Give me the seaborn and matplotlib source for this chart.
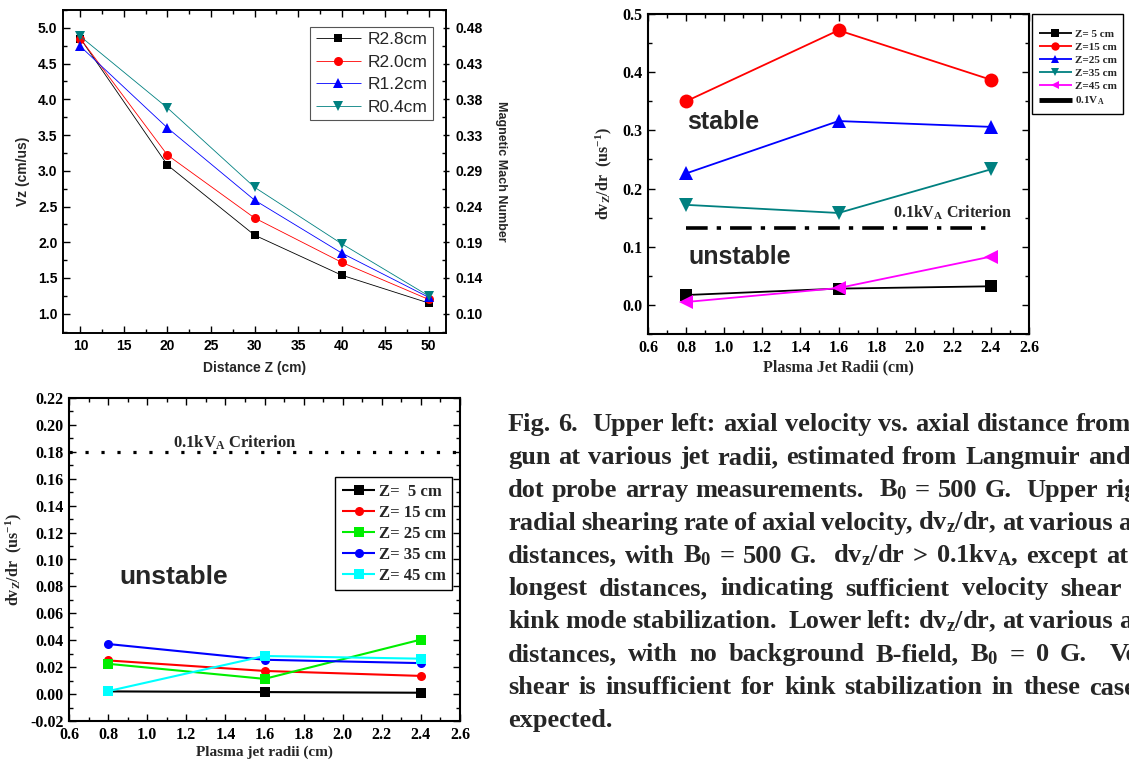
import numpy as np
import pandas as pd
import matplotlib
matplotlib.use("Agg")
import matplotlib.pyplot as plt
import seaborn as sns
from matplotlib.ticker import MultipleLocator, FormatStrFormatter, FixedLocator, FixedFormatter
from matplotlib.lines import Line2D

# ---------------- data ----------------
z_dist = [10, 20, 30, 40, 50]
vz_r28 = [4.85, 3.08, 2.10, 1.54, 1.15]
vz_r20 = [4.85, 3.22, 2.34, 1.72, 1.20]
vz_r12 = [4.74, 3.60, 2.59, 1.85, 1.23]
vz_r04 = [4.88, 3.88, 2.77, 1.98, 1.25]
vz_series_labels = ["R2.8cm", "R2.0cm", "R1.2cm", "R0.4cm"]
vz_ticks = [1.0, 1.5, 2.0, 2.5, 3.0, 3.5, 4.0, 4.5, 5.0]
mach_tick_labels = ["0.10", "0.14", "0.19", "0.24", "0.29", "0.33", "0.38", "0.43", "0.48"]
mach_per_vz = 0.096

radii = [0.8, 1.6, 2.4]
b500_z5 = [0.017, 0.028, 0.032]
b500_z15 = [0.350, 0.472, 0.387]
b500_z25 = [0.226, 0.316, 0.306]
b500_z35 = [0.172, 0.158, 0.233]
b500_z45 = [0.005, 0.029, 0.083]
b500_labels = ["Z= 5 cm", "Z=15 cm", "Z=25 cm", "Z=35 cm", "Z=45 cm", "0.1V$_\\mathrm{A}$"]
crit_b500 = 0.132

b0_z5 = [0.0020, 0.0015, 0.0010]
b0_z15 = [0.0250, 0.0172, 0.0135]
b0_z25 = [0.0225, 0.0113, 0.0405]
b0_z35 = [0.0372, 0.0255, 0.0230]
b0_z45 = [0.0022, 0.0283, 0.0263]
b0_labels = ["Z=  5 cm", "Z= 15 cm", "Z= 25 cm", "Z= 35 cm", "Z= 45 cm"]
crit_b0 = 0.18

caption_lines = [
    "Fig. 6.  Upper left: axial velocity vs. axial distance from",
    "gun at various jet radii, estimated from Langmuir and",
    "dot probe array measurements.  B$_0$ = 500 G.  Upper right:",
    "radial shearing rate of axial velocity, dv$_z$/dr, at various axial",
    "distances, with B$_0$ = 500 G.  dv$_z$/dr > 0.1kv$_A$, except at the",
    "longest distances, indicating sufficient velocity shear for",
    "kink mode stabilization.  Lower left: dv$_z$/dr, at various axial",
    "distances, with no background B-field, B$_0$ = 0 G.  Velocity",
    "shear is insufficient for kink stabilization in these cases, as",
    "expected.",
]
caption_anchor_words = ["from", "Langmuir", "Upper", "various", "at", "shear", "various", "G.", "these", None]
caption_anchor_px = [1131, 1080, 1098, 1113, 1128, 1122, 1113, 1087, 1080, None]

# ---------------- style ----------------
sns.set_theme(style="ticks")
plt.rcParams.update({
    "font.family": ["Liberation Serif", "DejaVu Sans"],
    "font.weight": "bold",
    "mathtext.fontset": "custom",
    "mathtext.rm": "Liberation Serif:bold",
    "mathtext.it": "Liberation Serif:bold",
    "mathtext.bf": "Liberation Serif:bold",
    "mathtext.default": "rm",
    "axes.edgecolor": "black",
    "axes.facecolor": "white",
    "figure.facecolor": "white",
    "xtick.color": "black",
    "ytick.color": "black",
    "lines.solid_capstyle": "butt",
})

W, H = 1129, 766
fig = plt.figure(figsize=(W / 100, H / 100), dpi=100)


def px_axes(l, t, r, b):
    return fig.add_axes([l / W, 1 - b / H, (r - l) / W, (b - t) / H])


def style_ticks(ax, lw, size, family, weight="bold"):
    for s in ax.spines.values():
        s.set_linewidth(lw)
        s.set_color("black")
    ax.tick_params(which="both", direction="in", top=True, right=True, width=1.0,
                   labelsize=size, pad=4)
    ax.tick_params(which="major", length=5)
    ax.tick_params(which="minor", length=3)
    for lab in ax.get_xticklabels() + ax.get_yticklabels():
        lab.set_family(family)
        lab.set_weight(weight)


# ---------------- panel 1 ----------------
ax1 = px_axes(63, 10, 446, 333)
p1 = [(vz_r28, "s", "#000000", 5.5), (vz_r20, "o", "#ff0000", 6.5),
      (vz_r12, "^", "#0000ff", 7), (vz_r04, "v", "#008080", 7)]
for (vals, mk, col, ms), lab in zip(p1, vz_series_labels):
    sns.lineplot(x=z_dist, y=vals, ax=ax1, color=col, marker=mk, markersize=ms,
                 markeredgewidth=0, linewidth=0.6, label=lab)
ax1.set_xlim(8, 52)
ax1.set_ylim(0.73, 5.25)
ax1.xaxis.set_major_locator(MultipleLocator(5))
ax1.xaxis.set_minor_locator(MultipleLocator(2.5))
ax1.yaxis.set_major_locator(FixedLocator(vz_ticks))
ax1.yaxis.set_minor_locator(MultipleLocator(0.25))
ax1.yaxis.set_major_formatter(FormatStrFormatter("%.1f"))
ax1.xaxis.set_major_formatter(FormatStrFormatter("%d"))
style_ticks(ax1, 1.2, 10, "Liberation Sans")
ax1.tick_params(right=False, which="both")
ax1.set_xlabel("Distance Z (cm)", family="Liberation Sans", weight="bold", fontsize=10, labelpad=6)
ax1.set_ylabel("Vz (cm/us)", family="Liberation Sans", weight="bold", fontsize=10, labelpad=6)
h, l = ax1.get_legend_handles_labels()
ax1.legend(h, l, loc="upper right", bbox_to_anchor=(0.966, 0.947),
           prop=dict(family="Liberation Sans", size=12.5, weight="normal"),
           frameon=True, fancybox=False, edgecolor="#555555", framealpha=1,
           handlelength=2.6, borderpad=0.3, labelspacing=0.42, handletextpad=0.4,
           borderaxespad=0)
ax1.get_legend().get_frame().set_linewidth(0.8)

ax1r = ax1.twinx()
ax1r.set_ylim(0.73 * mach_per_vz, 5.25 * mach_per_vz)
ax1r.yaxis.set_major_locator(FixedLocator([v * mach_per_vz for v in vz_ticks]))
ax1r.yaxis.set_major_formatter(FixedFormatter(mach_tick_labels))
ax1r.yaxis.set_minor_locator(MultipleLocator(0.25 * mach_per_vz))
ax1r.tick_params(which="both", direction="in", width=1.0, labelsize=10, pad=4)
ax1r.tick_params(which="major", length=5, direction="inout")
ax1r.tick_params(which="minor", length=3)
for lab in ax1r.get_yticklabels():
    lab.set_family("Liberation Sans")
    lab.set_weight("bold")
for s in ax1r.spines.values():
    s.set_linewidth(1.2)
ax1r.set_ylabel("Magnetic Mach Number", family="Liberation Sans", weight="bold",
                fontsize=9, rotation=270, labelpad=18)

# ---------------- panel 2 ----------------
ax2 = px_axes(648, 14, 1029, 334)
p2 = [(b500_z5, "s", "#000000", 9), (b500_z15, "o", "#ff0000", 10),
      (b500_z25, "^", "#0000ff", 10), (b500_z35, "v", "#008080", 10),
      (b500_z45, "<", "#ff00ff", 10)]
for (vals, mk, col, ms), lab in zip(p2, b500_labels[:5]):
    sns.lineplot(x=radii, y=vals, ax=ax2, color=col, marker=mk, markersize=ms,
                 markeredgewidth=0, linewidth=1.3, label=lab)
sns.lineplot(x=radii, y=[crit_b500] * len(radii), ax=ax2, color="black", linewidth=2.6,
             linestyle=(0, (6, 2.5, 1.2, 2.5)))
ax2.set_xlim(0.6, 2.6)
ax2.set_ylim(-0.05, 0.5)
ax2.xaxis.set_major_locator(MultipleLocator(0.2))
ax2.xaxis.set_minor_locator(MultipleLocator(0.1))
ax2.yaxis.set_major_locator(MultipleLocator(0.1))
ax2.yaxis.set_minor_locator(MultipleLocator(0.05))
ax2.xaxis.set_major_formatter(FormatStrFormatter("%.1f"))
ax2.yaxis.set_major_formatter(FormatStrFormatter("%.1f"))
style_ticks(ax2, 1.5, 11.5, "Liberation Serif")
ax2.set_xlabel("Plasma Jet Radii (cm)", family="Liberation Serif", weight="bold", fontsize=11.5, labelpad=3)
ax2.set_ylabel("dv$_Z$/dr  (us$^{-1}$)", family="Liberation Serif", weight="bold", fontsize=11.5, labelpad=6)
ax2.text(0.805, 0.314, "stable", family="Liberation Sans", weight="bold", fontsize=18, va="center", ha="left")
ax2.text(0.815, 0.082, "unstable", family="Liberation Sans", weight="bold", fontsize=18, va="center", ha="left")
ax2.text(2.51, 0.158, "0.1kV$_\\mathrm{A}$ Criterion", family="Liberation Serif", weight="bold",
         fontsize=11.5, va="center", ha="right")
h2, _ = ax2.get_legend_handles_labels()
ax2.get_legend().remove()
proxy = Line2D([], [], color="black", linewidth=3.5)
leg2 = fig.legend(h2 + [proxy], b500_labels, loc="upper left", bbox_to_anchor=(1032 / W, 1 - 14 / H),
                  prop=dict(family="Liberation Serif", size=8, weight="bold"),
                  title=" ", title_fontsize=4.5,
                  frameon=True, fancybox=False, edgecolor="black", framealpha=1,
                  handlelength=3.0, borderpad=0.6, labelspacing=0.3, handletextpad=0.25,
                  markerscale=0.6, borderaxespad=0)
leg2.get_frame().set_linewidth(1.0)

# ---------------- panel 3 ----------------
ax3 = px_axes(69, 398, 460, 721)
p3 = [(b0_z5, "s", "#000000"), (b0_z15, "o", "#ff0000"), (b0_z25, "s", "#00ee00"),
      (b0_z35, "o", "#0000ff"), (b0_z45, "s", "#00ffff")]
for (vals, mk, col), lab in zip(p3, b0_labels):
    sns.lineplot(x=radii, y=vals, ax=ax3, color=col, marker=mk, markersize=6.5,
                 markeredgewidth=0, linewidth=1.5, label=lab)
ax3.axhline(crit_b0, color="black", linewidth=2.3, linestyle=(0, (1, 4)), dash_capstyle="butt")
ax3.set_xlim(0.6, 2.6)
ax3.set_ylim(-0.02, 0.22)
ax3.xaxis.set_major_locator(MultipleLocator(0.2))
ax3.xaxis.set_minor_locator(MultipleLocator(0.1))
ax3.yaxis.set_major_locator(MultipleLocator(0.02))
ax3.yaxis.set_minor_locator(MultipleLocator(0.01))
ax3.xaxis.set_major_formatter(FormatStrFormatter("%.1f"))
ax3.yaxis.set_major_formatter(FormatStrFormatter("%.2f"))
style_ticks(ax3, 1.5, 11.5, "Liberation Serif")
ax3.set_xlabel("Plasma jet radii (cm)", family="Liberation Serif", weight="bold", fontsize=11, labelpad=2)
ax3.set_ylabel("dv$_Z$/dr  (us$^{-1}$)", family="Liberation Serif", weight="bold", fontsize=11.5, labelpad=4)
ax3.text(1.45, 0.1866, "0.1kV$_\\mathrm{A}$ Criterion", family="Liberation Serif", weight="bold",
         fontsize=12, va="center", ha="center")
ax3.text(0.856, 0.087, "unstable", family="Liberation Sans", weight="bold", fontsize=19, va="center", ha="left")
h3, l3 = ax3.get_legend_handles_labels()
ax3.legend(h3, l3, loc="upper right", bbox_to_anchor=(0.98, 0.755),
           prop=dict(family="Liberation Serif", size=12, weight="bold"),
           frameon=True, fancybox=False, edgecolor="black", framealpha=1,
           handlelength=2.0, borderpad=0.4, labelspacing=0.3, handletextpad=0.2,
           borderaxespad=0)
ax3.get_legend().get_frame().set_linewidth(1.0)

# ---------------- caption ----------------
renderer = fig.canvas.get_renderer()
cap_kw = dict(family="Liberation Serif", weight="bold", fontsize=19, va="baseline", ha="left")
x0 = 508
base0 = 431
step = 32.9


def measure(word):
    t = fig.text(0, 0, word, **cap_kw)
    w = t.get_window_extent(renderer=renderer).width
    t.remove()
    return w


space_px = measure("a a") - measure("aa")
for i, (line, anchor, anchor_x) in enumerate(zip(caption_lines, caption_anchor_words, caption_anchor_px)):
    y = base0 + i * step
    tokens = line.split(" ")
    words, weights = [], []
    for tok in tokens:
        if tok == "":
            if weights:
                weights[-1] += 1
            continue
        words.append(tok)
        weights.append(1)
    widths = [measure(w) for w in words]
    if anchor is None:
        gap_unit = space_px
    else:
        ai = max(k for k, w in enumerate(words) if w == anchor)
        total_w = sum(widths[: ai + 1])
        total_weight = sum(weights[:ai])
        gap_unit = max((anchor_x - x0 - total_w) / total_weight, 0.5 * space_px)
    x = x0
    for w, wd, wt in zip(words, widths, weights):
        fig.text(x / W, 1 - y / H, w, **cap_kw)
        x += wd + wt * gap_unit

fig.savefig("out.png", dpi=100)
